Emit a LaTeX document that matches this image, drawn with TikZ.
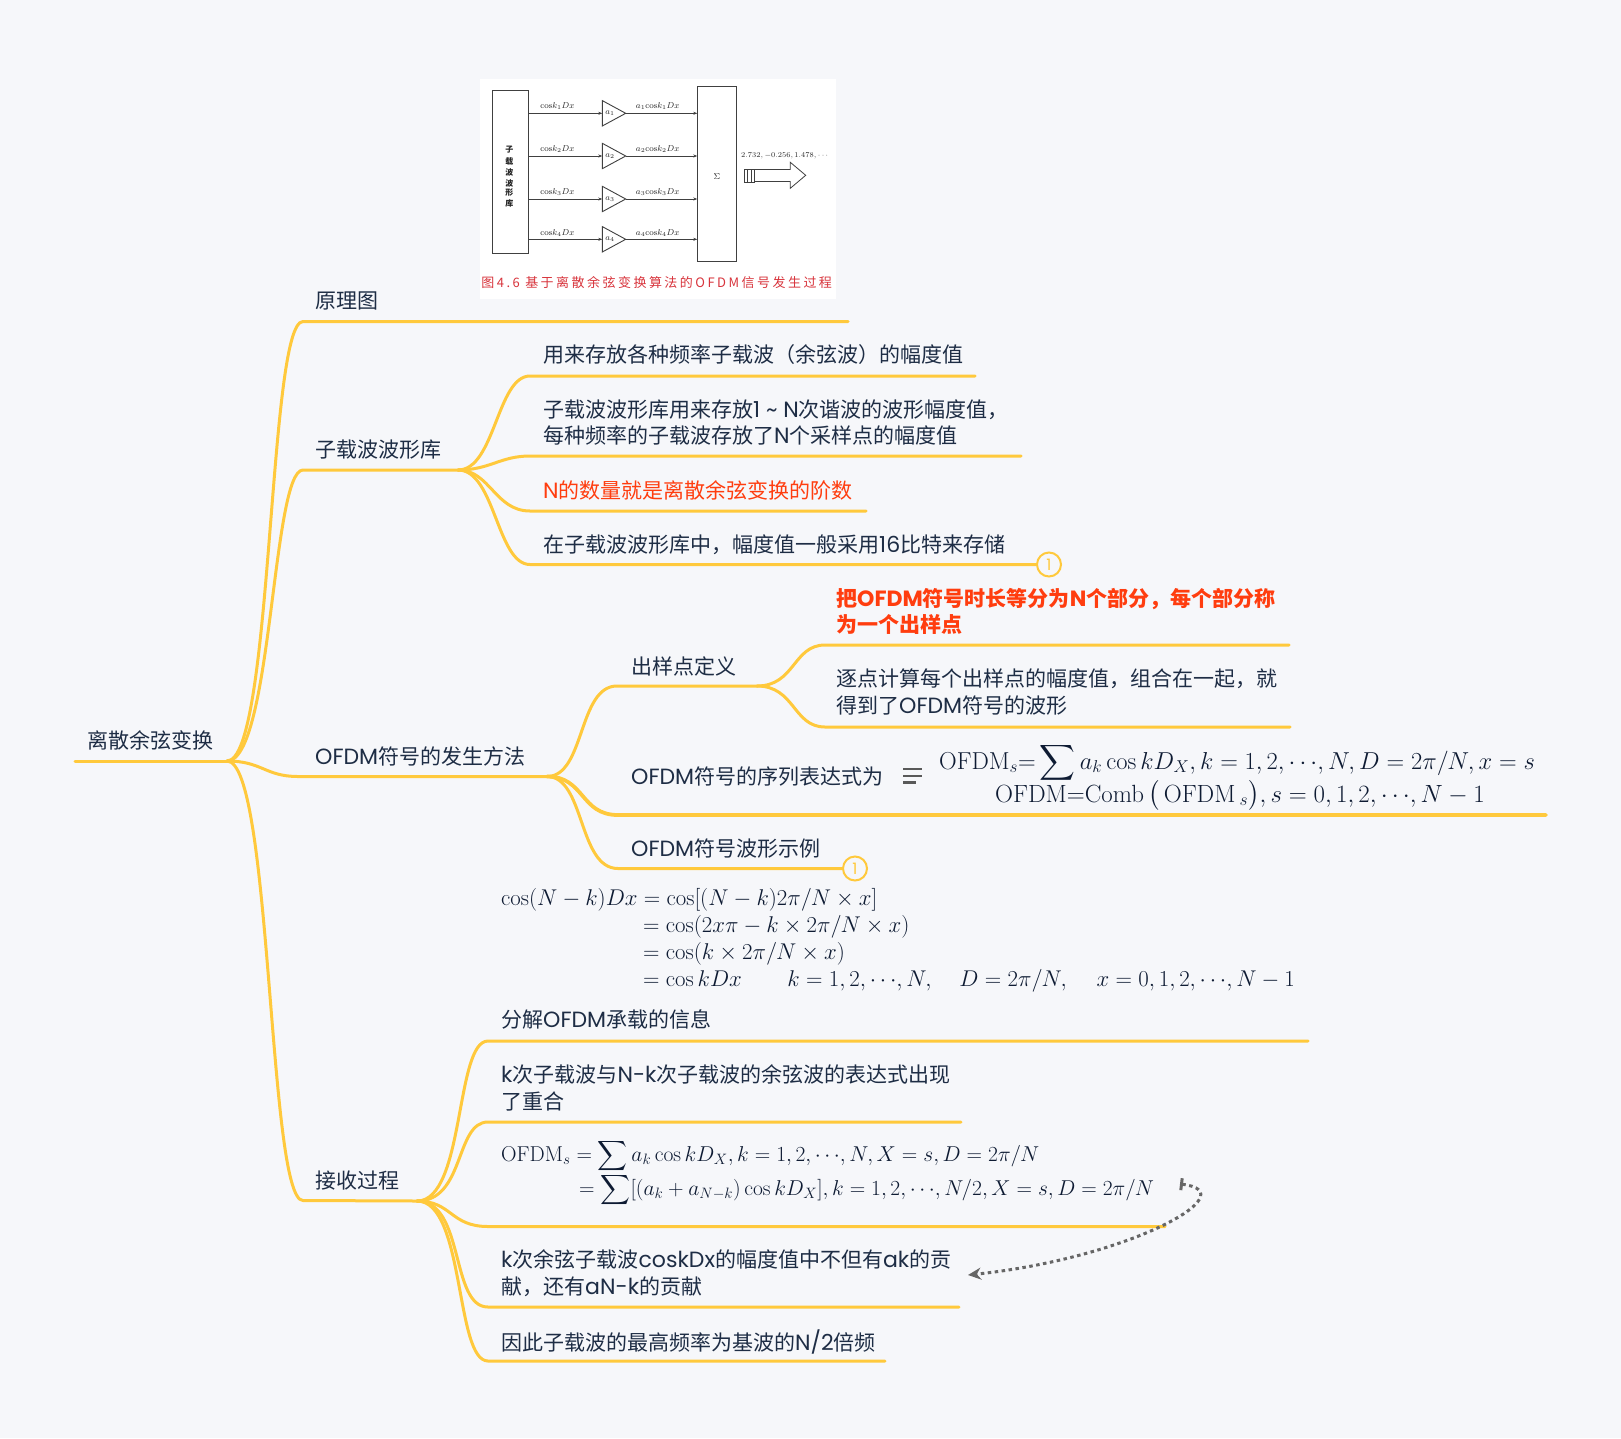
\documentclass[tikz,border=0pt]{standalone}
\usepackage{fix-cm}
\usepackage{amsmath}
\usepackage[no-math]{fontspec}
\setmainfont{Noto Sans CJK SC}
\newfontfamily\lat[Scale=1.05]{Poppins}
\usetikzlibrary{arrows.meta}
\definecolor{bgc}{HTML}{F6F7FA}
\definecolor{lnc}{HTML}{FFC93C}
\definecolor{txc}{HTML}{1E2D45}
\definecolor{mtc}{HTML}{0E1B33}
\definecolor{redc}{HTML}{FF3D0F}
\definecolor{capc}{HTML}{D8343C}
\newcommand{\la}[1]{{\lat #1}}
\newcommand{\cdd}{\cdots\!}
\tikzset{
 x=1pt,y=-1pt,
 topic/.style={inner sep=0pt,anchor=west,align=left,text=txc,yshift=-0.6pt,font=\fontsize{21}{26.5}\selectfont},
 fml/.style={inner sep=0pt,anchor=base west,text=mtc,font=\fontsize{#1}{26}\selectfont},
 fml/.default=21,
 br/.style={draw=lnc,line width=3pt,line cap=round,line join=round},
 thick br/.style={draw=lnc,line width=3.8pt,line cap=round},
 badge/.style={circle,draw=lnc,line width=2pt,fill=bgc,minimum size=24pt,inner sep=0pt,text=lnc,font=\fontsize{15}{17}\selectfont},
 pic/.style={draw=black!75,line width=0.9pt},
 pict/.style={inner sep=0pt,text=black!85,font=\fontsize{8.5}{10}\selectfont},
}
\begin{document}
\begin{tikzpicture}
\useasboundingbox (0,0) rectangle (1621,1438);
\fill[bgc] (0,0) rectangle (1621,1438);

% embedded figure
\fill[white] (480,79) rectangle (835.7,299);
\draw[pic] (492.3,90) rectangle (528.7,253.3);
\draw[pic] (697.3,86) rectangle (736.7,261.3);
\foreach \c/\t [count=\i] in {150/子,161/载,172/波,183/波,193/形,203/库}
  \node[pict,font=\fontsize{8}{9}\selectfont\bfseries] (cjk\i) at (509.3,\c) {\t};
\node[pict] (sig) at (717,176.7) {$\Sigma$};
\foreach \yl/\yt/\k [count=\i] in {113.3/106/1,156/148.7/2,199/191.7/3,239.3/232.7/4}{
  \coordinate (inL\i) at (528.7,\yl);
  \coordinate (inR\i) at (602.3,\yl);
  \coordinate (outL\i) at (625.7,\yl);
  \coordinate (outR\i) at (697.3,\yl);
  \draw[pic,-{Stealth[length=4pt,width=3pt]}] (inL\i) -- (inR\i);
  \draw[pic,-{Stealth[length=4pt,width=3pt]}] (outL\i) -- (outR\i);
  \draw[pic,fill=white] (602.3,\yl-12.7) -- (625.7,\yl) -- (602.3,\yl+12.7) -- cycle;
  \node[pict] (a\i) at (610,\yl) {$a_{\k}$};
  \node[pict] (cl\i) at (557.3,\yt) {$\mathrm{cos}k_{\k}Dx$};
  \node[pict] (ol\i) at (657.7,\yt) {$a_{\k}\mathrm{cos}k_{\k}Dx$};
}
\node[pict,font=\fontsize{7.4}{9}\selectfont] (seq) at (784,156) {$2.732,-0.256,1.478,\cdd$};
\draw[pic] (744.3,169) rectangle (754.3,182.3);
\draw[pic] (747.5,169) -- (747.5,182.3);
\draw[pic] (751,169) -- (751,182.3);
\draw[pic,line width=0.8pt] (754.3,169.5) -- (790.3,169.5) -- (790.3,162.3) -- (805.7,175.3) -- (790.3,188.3) -- (790.3,181.5) -- (754.3,181.5);
\node[inner sep=0pt,text=capc,font=\fontsize{13}{14}\selectfont\addfontfeature{LetterSpace=19}] (cap) at (656.7,282.3) {图4.6 基于离散余弦变换算法的OFDM信号发生过程};

% hubs
\coordinate (rootL) at (75,761);
\coordinate (hub0) at (227,761);
\coordinate (hubA) at (458,470);
\coordinate (hubB) at (547,776.5);
\coordinate (hubC) at (757,686);
\coordinate (hubD) at (417,1201);

% root
\node[topic] (root) at (87,740) {离散余弦变换};
\draw[br] (rootL) -- (hub0);

% level 1
\node[topic] (t1) at (315,300) {原理图};
\node[topic] (t2) at (315,449) {子载波波形库};
\node[topic] (t3) at (315,756) {\la{OFDM}符号的发生方法};
\node[topic] (t4) at (315,1180) {接收过程};
\coordinate (t1a) at (303,321.5); \coordinate (t1b) at (848,321.5);
\coordinate (t2a) at (303,470);
\coordinate (t3a) at (298,776.5);
\coordinate (t4a) at (303,1200.5);
\draw[br] (hub0) .. controls (273,761) and (268,321.5) .. (t1a) -- (t1b);
\draw[br] (hub0) .. controls (272,761) and (272,470) .. (t2a) -- (hubA);
\draw[br] (hub0) .. controls (262,761) and (265,776.5) .. (t3a) -- (hubB);
\draw[br] (hub0) .. controls (272,761) and (268,1200.5) .. (t4a) -- (hubD);

% group A
\node[topic] (a1t) at (543,354) {用来存放各种频率子载波（余弦波）的幅度值};
\node[topic] (a2t) at (543,422) {子载波波形库用来存放\la{1 \char"007E\ N}次谐波的波形幅度值，\\每种频率的子载波存放了\la{N}个采样点的幅度值};
\node[topic,text=redc] (a3t) at (543,490) {\la{N}的数量就是离散余弦变换的阶数};
\node[topic] (a4t) at (543,544) {在子载波波形库中，幅度值一般采用\la{16}比特来存储};
\coordinate (a1a) at (530,376); \coordinate (a1b) at (975,376);
\coordinate (a2a) at (530,456); \coordinate (a2b) at (1021,456);
\coordinate (a3a) at (530,511); \coordinate (a3b) at (866,511);
\coordinate (a4a) at (530,564.5);
\node[badge] (a4c) at (1049,564.5) {\la{1}};
\draw[br] (hubA) .. controls (495,470) and (497,376) .. (a1a) -- (a1b);
\draw[br] (hubA) .. controls (490,470) and (500,456) .. (a2a) -- (a2b);
\draw[br] (hubA) .. controls (490,470) and (495,511) .. (a3a) -- (a3b);
\draw[br] (hubA) .. controls (495,470) and (497,564.5) .. (a4a) -- (a4c);

% group B
\node[topic] (b1t) at (631,666) {出样点定义};
\node[topic] (b2t) at (631,776) {\la{OFDM}符号的序列表达式为};
\node[topic] (b3t) at (631,848) {\la{OFDM}符号波形示例};
\coordinate (b1a) at (617,686);
\coordinate (b2a) at (618,815); \coordinate (b2b) at (1546,815);
\coordinate (b3a) at (618,868.5);
\node[badge] (b3c) at (855,868.5) {\la{1}};
\draw[br] (hubB) .. controls (585,776.5) and (578,686) .. (b1a) -- (hubC);
\draw[thick br] (hubB) .. controls (585,776.5) and (580,815) .. (b2a) -- (b2b);
\draw[br] (hubB) .. controls (585,776.5) and (578,868.5) .. (b3a) -- (b3c);

\draw[draw=black!65,line width=2.4pt] (903,769) -- (921.5,769) (903,775.7) -- (921.5,775.7) (903,782.3) -- (916,782.3);
\node[fml=24.5] (f1) at (939,769) {$\mathrm{OFDM}_s{=}\displaystyle\sum a_k\cos kD_X,k=1,2,\cdd,N,D=2\pi/N,x=s$};
\node[fml=24.9] (f2) at (995,802) {$\mathrm{OFDM}{=}\mathrm{Comb}\,\bigl(\,\mathrm{OFDM}\,_s\bigr),s=0,1,2,\cdd,N-1$};

% group C
\node[topic,text=redc,font=\fontsize{21}{26.5}\selectfont\bfseries] (c1t) at (836,611) {把\la{OFDM}符号时长等分为\la{N}个部分，每个部分称\\为一个出样点};
\node[topic] (c2t) at (836,691.5) {逐点计算每个出样点的幅度值，组合在一起，就\\得到了\la{OFDM}符号的波形};
\coordinate (c1a) at (825,645); \coordinate (c1b) at (1289,645);
\coordinate (c2a) at (825,727); \coordinate (c2b) at (1290,727);
\draw[br] (hubC) .. controls (795,686) and (793,645) .. (c1a) -- (c1b);
\draw[br] (hubC) .. controls (795,686) and (793,727) .. (c2a) -- (c2b);

% free formula
\node[fml=22.8] (g1) at (501,905) {$\cos(N-k)Dx=\cos[(N-k)2\pi/N\times x]$};
\node[fml=22.8] (g2) at (643,932) {$=\cos(2x\pi-k\times 2\pi/N\times x)$};
\node[fml=22.8] (g3) at (643,959) {$=\cos(k\times 2\pi/N\times x)$};
\node[fml=22.8] (g4) at (643,986) {$=\cos kDx\qquad k=1,2,\cdd,N,\hspace{24pt} D=2\pi/N,\hspace{26pt} x=0,1,2,\cdd,N-1$};

% group D
\node[topic] (d1t) at (501,1019) {分解\la{OFDM}承载的信息};
\node[topic] (d2t) at (501,1087.5) {\la{k}次子载波与\la{N-k}次子载波的余弦波的表达式出现\\了重合};
\node[fml=21.5] (d3t) at (501,1161) {$\mathrm{OFDM}_s=\displaystyle\sum a_k\cos kD_X,k=1,2,\cdd,N,X=s,D=2\pi/N$};
\node[fml=21.5] (d3u) at (579,1195) {$=\displaystyle\sum[(a_k+a_{N-k})\cos kD_X],k=1,2,\cdd,N/2,X=s,D=2\pi/N$};
\node[topic] (d4t) at (501,1272.5) {\la{k}次余弦子载波\la{coskDx}的幅度值中不但有\la{ak}的贡\\献，还有\la{aN-k}的贡献};
\node[topic] (d5t) at (501,1341) {因此子载波的最高频率为基波的\la{N/2}倍频};
\coordinate (d1a) at (488,1041); \coordinate (d1b) at (1308,1041);
\coordinate (d2a) at (488,1122); \coordinate (d2b) at (961,1122);
\coordinate (d3a) at (488,1226.5); \coordinate (d3b) at (1165,1226.5);
\coordinate (d4a) at (488,1307); \coordinate (d4b) at (959,1307);
\coordinate (d5a) at (488,1361); \coordinate (d5b) at (885,1361);
\draw[br] (hubD) .. controls (465,1201) and (455,1041) .. (d1a) -- (d1b);
\draw[br] (hubD) .. controls (465,1201) and (455,1122) .. (d2a) -- (d2b);
\draw[br] (hubD) .. controls (452,1201) and (450,1226.5) .. (d3a) -- (d3b);
\draw[br] (hubD) .. controls (465,1201) and (450,1307) .. (d4a) -- (d4b);
\draw[br] (hubD) .. controls (465,1201) and (455,1361) .. (d5a) -- (d5b);

% relationship
\coordinate (relA) at (1180,1184);
\coordinate (relB) at (968,1275);
\draw[draw=black!60,line width=3pt,dash pattern=on 3.5pt off 3.5pt,{Bar[width=12pt,length=2.5pt,sep=0pt]}-{Stealth[length=13pt,width=12pt,sep=0pt]}] (relA) .. controls (1248,1192) and (1130,1258) .. (relB);
\end{tikzpicture}
\end{document}
